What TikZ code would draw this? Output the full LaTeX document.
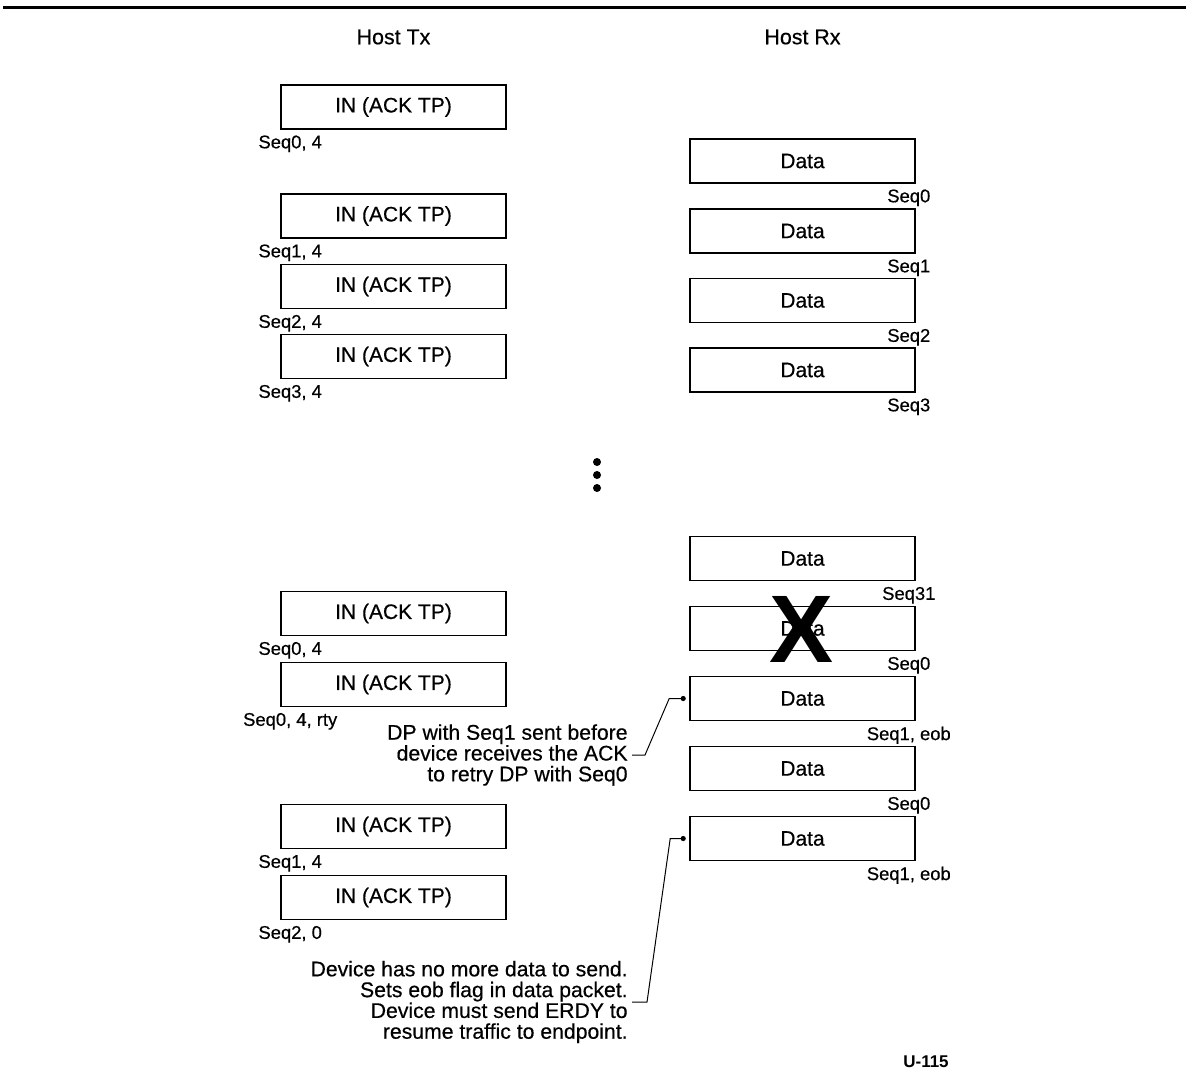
\documentclass[tikz,border=0pt]{standalone}
\usepackage{fontspec}
\setmainfont{Liberation Sans}[FakeBold=0.45]
\newfontfamily\idfont{Liberation Sans}
\usetikzlibrary{calc}

\begin{document}
\begin{tikzpicture}[x=0.5pt,y=-0.5pt,
  pkt/.style={draw,line width=0.8pt,minimum width=112.5pt,minimum height=22pt,inner sep=0pt,font=\fontsize{10.5}{12}\selectfont},
  seqlbl/.style={inner sep=0pt,font=\fontsize{9.2}{11}\selectfont},
  head/.style={font=\fontsize{10.7}{12}\selectfont},
  note/.style={align=right,anchor=east,inner sep=2pt,font=\fontsize{10.6}{10.4}\selectfont},
  leader/.style={line width=0.5pt}]
\useasboundingbox (0,0) rectangle (1186,1089);
\draw[line width=1.5pt] (3,7) -- (1186,7);
\node[head] (txhead) at (393.5,37) {Host Tx};
\node[head] (rxhead) at (802.5,37) {Host Rx};

% Host Tx column
\node[pkt] (tx1) at (393.5,107) {IN (ACK TP)};
\node[pkt] (tx2) at (393.5,216) {IN (ACK TP)};
\node[pkt] (tx3) at (393.5,286.5) {IN (ACK TP)};
\node[pkt] (tx4) at (393.5,356.5) {IN (ACK TP)};
\node[pkt] (tx5) at (393.5,613.5) {IN (ACK TP)};
\node[pkt] (tx6) at (393.5,684.5) {IN (ACK TP)};
\node[pkt] (tx7) at (393.5,826.5) {IN (ACK TP)};
\node[pkt] (tx8) at (393.5,897.5) {IN (ACK TP)};
\node[seqlbl] (txl1) at ($(tx1.south west)+(10,14)$) {Seq0, 4};
\node[seqlbl] (txl2) at ($(tx2.south west)+(10,14)$) {Seq1, 4};
\node[seqlbl] (txl3) at ($(tx3.south west)+(10,14)$) {Seq2, 4};
\node[seqlbl] (txl4) at ($(tx4.south west)+(10,14)$) {Seq3, 4};
\node[seqlbl] (txl5) at ($(tx5.south west)+(10,14)$) {Seq0, 4};
\node[seqlbl] (txl6) at ($(tx6.south west)+(10,14)$) {Seq0, 4, rty};
\node[seqlbl] (txl7) at ($(tx7.south west)+(10,14)$) {Seq1, 4};
\node[seqlbl] (txl8) at ($(tx8.south west)+(10,14)$) {Seq2, 0};

% Host Rx column
\node[pkt] (rx1) at (802.5,161) {Data};
\node[pkt] (rx2) at (802.5,231) {Data};
\node[pkt] (rx3) at (802.5,300.5) {Data};
\node[pkt] (rx4) at (802.5,370) {Data};
\node[pkt] (rx5) at (802.5,558.5) {Data};
\node[pkt] (rx6) at (802.5,628.5) {Data};
\node[pkt] (rx7) at (802.5,698.5) {Data};
\node[pkt] (rx8) at (802.5,768.5) {Data};
\node[pkt] (rx9) at (802.5,838.5) {Data};
\node[seqlbl] (rxl1) at ($(rx1.south east)+(-7,14)$) {Seq0};
\node[seqlbl] (rxl2) at ($(rx2.south east)+(-7,14)$) {Seq1};
\node[seqlbl] (rxl3) at ($(rx3.south east)+(-7,14)$) {Seq2};
\node[seqlbl] (rxl4) at ($(rx4.south east)+(-7,14)$) {Seq3};
\node[seqlbl] (rxl5) at ($(rx5.south east)+(-7,14)$) {Seq31};
\node[seqlbl] (rxl6) at ($(rx6.south east)+(-7,14)$) {Seq0};
\node[seqlbl] (rxl7) at ($(rx7.south east)+(-7,14)$) {Seq1, eob};
\node[seqlbl] (rxl8) at ($(rx8.south east)+(-7,14)$) {Seq0};
\node[seqlbl] (rxl9) at ($(rx9.south east)+(-7,14)$) {Seq1, eob};

% lost packet
\node[inner sep=0pt,font=\idfont\fontsize{48}{50}\selectfont\bfseries] (lost) at (801,629) {X};

% gap in the sequence
\foreach \d in {462,475,488}
  \fill (597,\d) circle (2pt);

% callouts
\node[note] (note1) at (632,755) {DP with Seq1 sent before\\device receives the ACK\\to retry DP with Seq0};
\coordinate (dot1) at ($(rx7.west)+(-6,0)$);
\draw[leader] (note1.east) -- ++(13,0) -- ($(dot1)+(-14,0)$) -- (dot1);
\fill (dot1) circle (1.3pt);

\node[note] (note2) at (632,1002) {Device has no more data to send.\\Sets eob flag in data packet.\\Device must send ERDY to\\resume traffic to endpoint.};
\coordinate (dot2) at ($(rx9.west)+(-6,0)$);
\draw[leader] (note2.east) -- ++(15,0) -- ($(dot2)+(-13,0)$) -- (dot2);
\fill (dot2) circle (1.3pt);

\node[inner sep=0pt,font=\idfont\fontsize{8.5}{10}\selectfont\bfseries] (figid) at (926,1062) {U-115};
\end{tikzpicture}
\end{document}
